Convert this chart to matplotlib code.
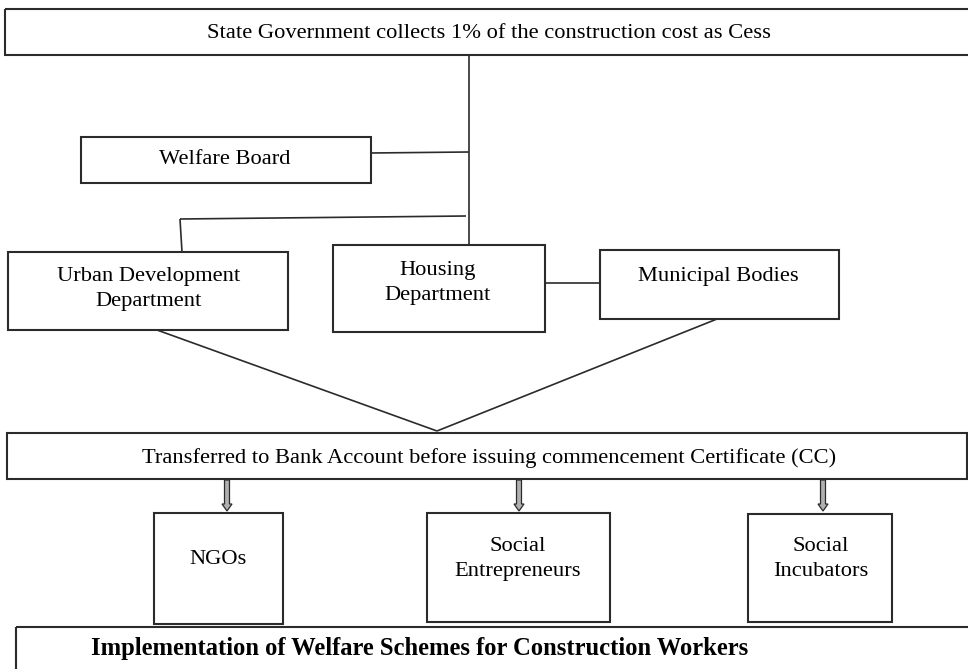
import matplotlib.pyplot as plt
from matplotlib.patches import Rectangle, FancyArrow

plt.rcParams['font.family'] = ['Liberation Serif', 'DejaVu Serif']

# box labels
top_label = "State Government collects 1% of the construction cost as Cess"
mid_labels = ["Welfare Board", "Urban Development\nDepartment",
              "Housing\nDepartment", "Municipal Bodies"]
bank_label = "Transferred to Bank Account before issuing commencement Certificate (CC)"
agency_labels = ["NGOs", "Social\nEntrepreneurs", "Social\nIncubators"]
bottom_label = "Implementation of Welfare Schemes for Construction Workers"

# layout in pixel coords (x0, y0, x1, y1), y grows downward
top_box = (5, 9, 980, 55)
mid_boxes = [(81, 137, 371, 183), (8, 252, 288, 330),
             (333, 245, 545, 332), (600, 250, 839, 319)]
mid_text_xy = [(225, 159), (149, 289), (438, 283), (718, 277)]
bank_box = (7, 433, 967, 479)
agency_boxes = [(154, 513, 283, 624), (427, 513, 610, 622), (748, 514, 892, 622)]
agency_text_xy = [(218, 559), (518, 559), (821, 559)]
arrow_x = [227, 519, 823]
bottom_box = (16, 627, 990, 700)

edge = "#2b2b2b"
fs = 16.2

fig = plt.figure(figsize=(9.68, 6.69), dpi=100, facecolor="white")
ax = fig.add_axes([0, 0, 1, 1])
ax.set_xlim(0, 968)
ax.set_ylim(669, 0)
ax.axis("off")


def box(b, lw=1.5):
    x0, y0, x1, y1 = b
    ax.add_patch(Rectangle((x0, y0), x1 - x0, y1 - y0, fill=False,
                           edgecolor=edge, lw=lw))


def line(xs, ys, lw=1.2):
    ax.plot(xs, ys, color=edge, lw=lw, solid_capstyle="butt")


# top
box(top_box)
ax.text(489, 33, top_label, ha="center", va="center", fontsize=fs)

# connectors from top
line([469, 469], [55, 245])
line([371, 469], [153, 152])
line([180, 466], [219, 216])
line([180, 182], [219, 252])
line([545, 600], [283, 283])

for b, (tx, ty), lab in zip(mid_boxes, mid_text_xy, mid_labels):
    box(b)
    ax.text(tx, ty, lab, ha="center", va="center", fontsize=fs,
            linespacing=1.45)

# converging lines
line([157, 437], [330, 431])
line([717, 437], [319, 431])

# bank box
box(bank_box)
ax.text(489, 458, bank_label, ha="center", va="center", fontsize=fs)

# arrows
for x in arrow_x:
    ax.add_patch(FancyArrow(x, 480, 0, 31, width=5, head_width=10,
                            head_length=7, length_includes_head=True,
                            facecolor="#b0b0b0", edgecolor=edge, lw=0.9))

for b, (tx, ty), lab in zip(agency_boxes, agency_text_xy, agency_labels):
    box(b)
    ax.text(tx, ty, lab, ha="center", va="center", fontsize=fs,
            linespacing=1.45)

# bottom
box(bottom_box)
ax.text(91, 649, bottom_label, ha="left", va="center", fontsize=17.7,
        fontweight="bold")

fig.savefig("out.png", dpi=100, facecolor="white")
